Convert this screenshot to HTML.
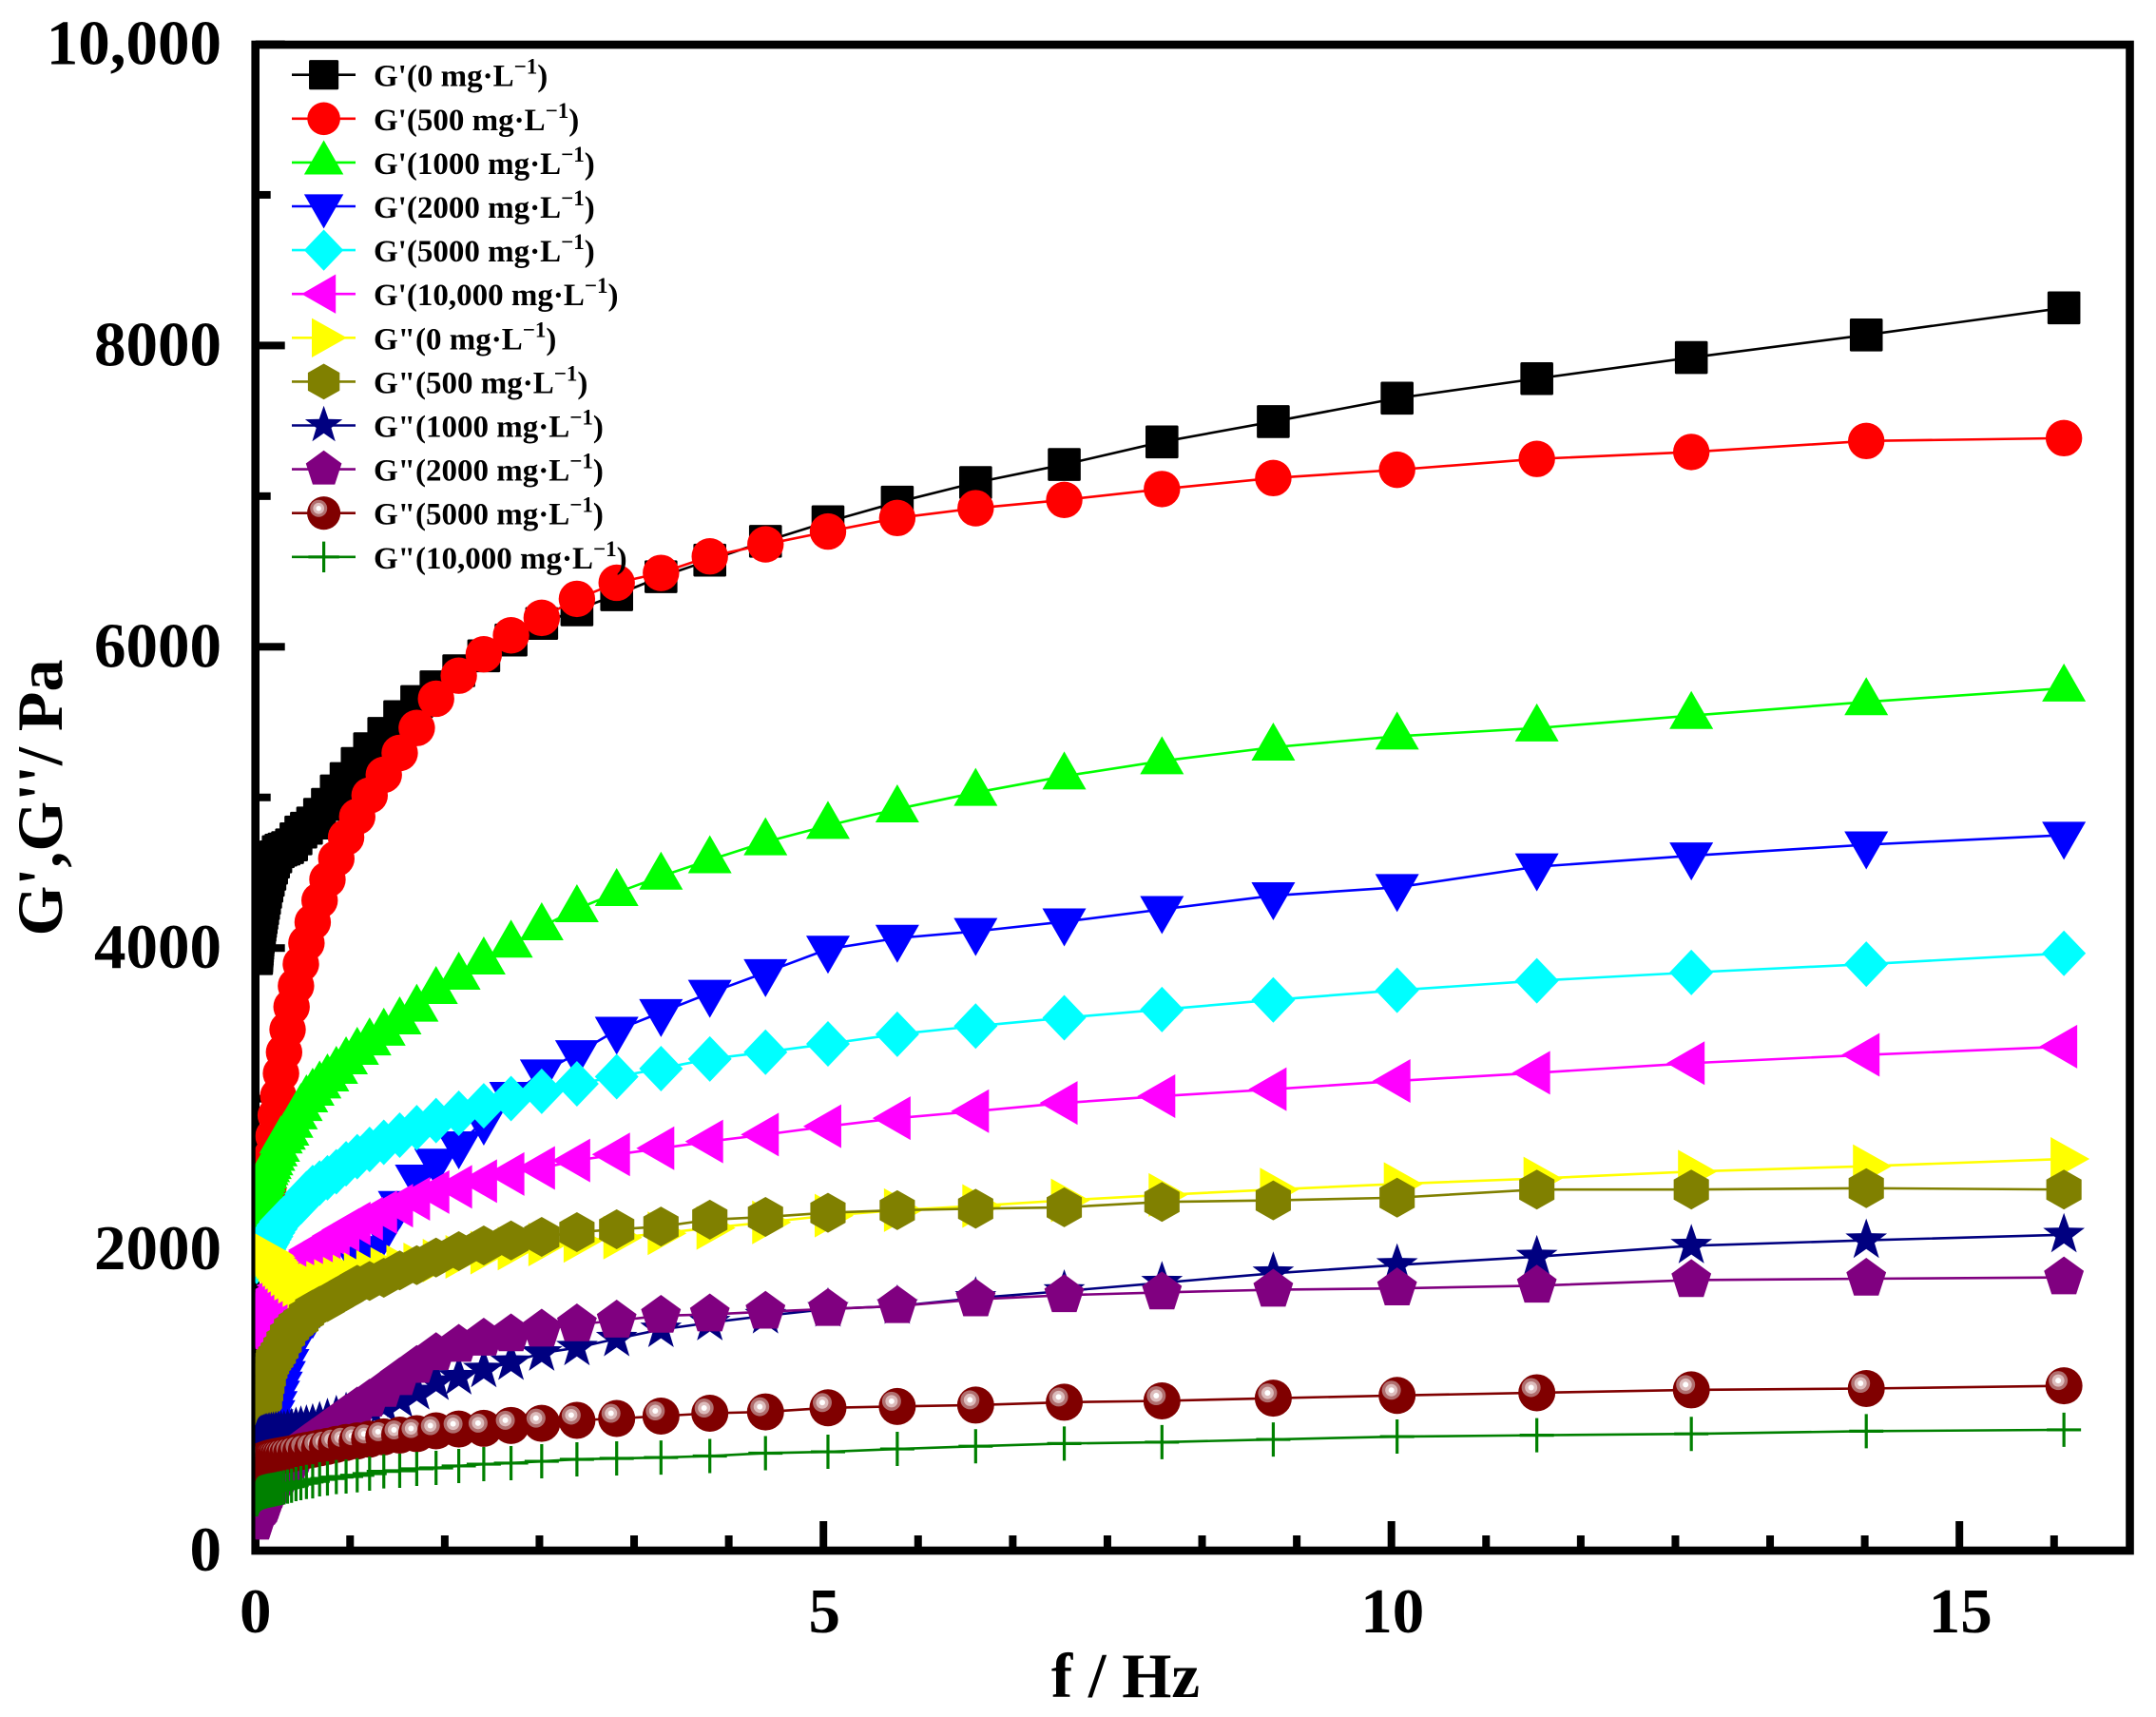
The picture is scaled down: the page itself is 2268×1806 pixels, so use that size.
<!DOCTYPE html>
<html>
<head>
<meta charset="utf-8">
<title>G', G'' vs frequency</title>
<style>
html,body{margin:0;padding:0;background:#fff;}
svg{display:block;}
text{font-family:"Liberation Serif",serif;font-weight:bold;fill:#000;}
</style>
</head>
<body>
<svg id="chart" xmlns="http://www.w3.org/2000/svg" width="2268" height="1806" viewBox="0 0 2268 1806">
<defs>
<clipPath id="plot-clip"><rect x="268.7" y="47" width="1972" height="1584"/></clipPath>
</defs>
<rect x="0" y="0" width="2268" height="1806" fill="#fff"/>
<g id="axis-layer"></g>
<g id="series-layer" clip-path="url(#plot-clip)"></g>
<g id="legend-layer"></g>
<text x="1184" y="1785" font-size="67" text-anchor="middle">f / Hz</text>
<text transform="translate(65,839) rotate(-90)" font-size="68" text-anchor="middle">G',G''/ Pa</text>
</svg>
<script>
const frequencies = [
0.01005,0.0113,0.0127,0.0142,0.0159,0.0179,0.0201,0.0225,0.0252,0.0283,0.0318,0.0357,0.04,
0.0449,0.0504,0.0565,0.0634,0.0712,0.0798,0.0896,0.1005,0.113,0.127,0.142,0.159,0.179,
0.201,0.225,0.252,0.283,0.318,0.357,0.4,0.449,0.504,0.565,0.634,0.712,0.798,
0.896,1.005,1.13,1.27,1.42,1.59,1.79,2.01,2.25,2.52,2.83,3.18,3.57,
4,4.49,5.04,5.65,6.34,7.12,7.98,8.96,10.05,11.28,12.64,14.18,15.92];

const gPrime0 = [
3930,3945,3960,3975,3990,4010,4030,4050,4070,4090,4110,4130,4150,
4175,4200,4230,4260,4295,4330,4370,4410,4450,4490,4530,4570,4605,
4640,4650,4657,4667,4685,4725,4770,4795,4830,4888,4954,5043,5125,
5225,5323,5425,5536,5636,5734,5841,5940,6045,6155,6245,6345,6465,
6575,6700,6830,6960,7090,7210,7360,7495,7650,7780,7920,8070,8250];
const gPrime500 = [
1950,1960,1970,1985,1995,2010,2020,2035,2045,2055,2065,2078,2088,
2100,2130,2160,2190,2220,2260,2300,2350,2400,2500,2620,2752,2890,
3019,3168,3309,3459,3610,3749,3894,4033,4172,4316,4455,4594,4735,
4872,5013,5150,5295,5461,5655,5808,5950,6076,6192,6318,6425,6490,
6600,6680,6765,6855,6920,6975,7047,7120,7175,7247,7293,7366,7385];
const gPrime1000 = [
2190,2200,2210,2220,2235,2248,2260,2275,2290,2305,2320,2335,2350,
2365,2380,2405,2430,2450,2470,2492,2515,2535,2555,2580,2610,2640,
2670,2725,2750,2777,2829,2885,2940,2998,3042,3090,3137,3187,3250,
3313,3376,3440,3515,3600,3717,3812,3913,4025,4140,4260,4367,4476,
4585,4704,4813,4923,5032,5141,5242,5333,5406,5460,5543,5634,5725];
const gPrime2000 = [
620,625,630,635,640,645,650,655,660,665,670,675,680,
685,690,695,700,710,720,735,750,770,800,850,910,970,
1040,1100,1170,1250,1340,1430,1480,1520,1570,1640,1700,1765,1830,
1930,2000,2120,2299,2474,2580,2695,2853,3023,3172,3300,3455,3573,
3701,3838,3993,4066,4111,4175,4257,4348,4403,4540,4613,4686,4750];
const gPrime5000 = [
1920,1922,1925,1928,1932,1936,1945,1950,1955,1958,1960,1963,1965,
1972,1978,1982,1985,1992,2000,2015,2030,2045,2065,2085,2110,2135,
2160,2185,2205,2225,2255,2285,2315,2370,2410,2440,2475,2515,2568,
2615,2663,2711,2758,2808,2855,2903,2953,3001,3049,3099,3146,3200,
3264,3309,3364,3428,3482,3537,3592,3656,3720,3783,3838,3893,3965];
const gPrime10000 = [
1430,1435,1440,1447,1455,1462,1470,1480,1490,1500,1510,1520,1530,
1540,1550,1562,1575,1590,1605,1620,1635,1650,1665,1680,1695,1712,
1730,1760,1790,1820,1855,1890,1925,1960,1994,2020,2051,2089,2129,
2171,2203,2246,2290,2335,2380,2415,2453,2500,2540,2590,2630,2671,
2716,2762,2817,2871,2917,2972,3017,3063,3118,3172,3236,3291,3346];
const gDouble0 = [
2000,2000,1999,1998,1997,1996,1995,1993,1992,1990,1989,1988,1987,
1986,1985,1982,1980,1977,1975,1970,1965,1960,1948,1930,1915,1895,
1876,1855,1832,1806,1785,1762,1752,1755,1765,1778,1790,1805,1820,
1835,1850,1870,1885,1900,1925,1950,1978,2005,2032,2056,2078,2106,
2142,2179,2224,2260,2288,2325,2361,2397,2434,2470,2516,2552,2600];
const gDouble500 = [
960,961,963,964,965,967,970,972,975,978,980,982,985,
987,990,992,995,1000,1010,1060,1110,1160,1210,1240,1265,1285,
1310,1345,1385,1430,1470,1500,1525,1565,1600,1625,1650,1685,1722,
1765,1790,1811,1860,1895,1945,1988,2026,2059,2083,2114,2133,2151,
2197,2215,2243,2260,2270,2279,2315,2325,2343,2397,2397,2406,2397];
const gDouble1000 = [
700,705,710,715,720,725,730,733,737,740,743,747,750,
753,756,758,760,763,766,768,770,773,775,778,780,783,
785,788,790,797,805,812,820,827,835,850,870,890,910,
930,945,965,1003,1054,1117,1153,1201,1250,1311,1347,1407,1468,
1513,1559,1604,1623,1677,1723,1778,1841,1896,1951,2024,2060,2097];
const gDouble2000 = [
186,190,195,200,205,210,220,228,236,245,253,260,268,
274,278,282,285,292,300,320,345,370,395,415,425,450,
480,500,520,550,590,630,669,710,740,770,810,850,900,
950,1003,1067,1145,1226,1311,1366,1407,1436,1467,1502,1527,1559,
1568,1586,1604,1623,1668,1696,1714,1732,1741,1759,1796,1805,1814];
const gDouble5000 = [
580,581,582,583,584,585,586,587,588,589,590,591,592,
593,594,596,598,600,603,606,609,612,615,618,621,624,
627,630,634,638,643,650,658,665,672,682,692,705,718,
728,740,755,767,776,795,807,812,831,845,865,877,893,
912,921,948,957,966,985,994,1012,1030,1048,1067,1076,1094];
const gDouble10000 = [
340,343,347,351,355,358,362,365,368,372,375,378,380,
382,384,386,388,390,392,394,396,398,400,402,405,408,
412,415,420,425,431,442,448,456,460,473,479,488,492,
500,511,526,530,543,549,562,574,581,593,606,612,618,
628,647,656,675,693,711,720,738,757,766,775,793,802];

const xMajorTicks = [0,5,10,15];
const xMinorTicks = [0.8333,1.6667,2.5,3.3333,4.1667,5.8333,6.6667,7.5,8.3333,9.1667,10.8333,11.6667,12.5,13.3333,14.1667,15.8333];
const yMajorTicks = [0,2000,4000,6000,8000,10000];
const yMinorTicks = [1000,3000,5000,7000,9000];
const xTickLabels = ['0','5','10','15'];
const yTickLabels = ['0','2000','4000','6000','8000','10,000'];

const seriesNames = ["G'(0 mg·L","G'(500 mg·L","G'(1000 mg·L","G'(2000 mg·L","G'(5000 mg·L","G'(10,000 mg·L","G\"(0 mg·L","G\"(500 mg·L","G\"(1000 mg·L","G\"(2000 mg·L","G\"(5000 mg·L","G\"(10,000 mg·L"];
const seriesSlugs = ['gp-0','gp-500','gp-1000','gp-2000','gp-5000','gp-10000','gpp-0','gpp-500','gpp-1000','gpp-2000','gpp-5000','gpp-10000'];
const seriesColors = ['#000000','#ff0000','#00ff00','#0000ff','#00ffff','#ff00ff','#ffff00','#808000','#000080','#800080','#800000','#008000'];
const seriesMarkers = ['square','circle','up','down','diamond','left','right','hexagon','star','pentagon','sphere','plus'];
const seriesValues = [gPrime0,gPrime500,gPrime1000,gPrime2000,gPrime5000,gPrime10000,gDouble0,gDouble500,gDouble1000,gDouble2000,gDouble5000,gDouble10000];

const NS = 'http://www.w3.org/2000/svg';
function xScale(f){ return 268.7 + f * 119.5; }
function yScale(v){ return 1631 - v * 0.15845; }
function make(tag, attrs, parent){
  const el = document.createElementNS(NS, tag);
  for (const k in attrs) el.setAttribute(k, attrs[k]);
  parent.appendChild(el);
  return el;
}
function polyStr(cx, cy, pts, s){
  return pts.map(p => (cx + p[0] * s).toFixed(2) + ',' + (cy + p[1] * s).toFixed(2)).join(' ');
}
function regular(n, r, rot){
  const out = [];
  for (let i = 0; i < n; i++){
    const a = rot + i * 2 * Math.PI / n;
    out.push([r * Math.cos(a), r * Math.sin(a)]);
  }
  return out;
}
function starPts(R, r){
  const out = [];
  for (let i = 0; i < 10; i++){
    const a = -Math.PI / 2 + i * Math.PI / 5;
    const q = i % 2 ? r : R;
    out.push([q * Math.cos(a), q * Math.sin(a)]);
  }
  return out;
}
const shapes = {
  up: [[0,-26],[23,14],[-23,14]],
  down: [[0,26],[23,-14],[-23,-14]],
  left: [[-26,0],[14,-23],[14,23]],
  right: [[27,0],[-14,-23],[-14,23]],
  diamond: [[0,-24],[23,0],[0,24],[-23,0]],
  hexagon: regular(6, 21, -Math.PI / 2).map(p => [p[0] * 1.02, p[1]]),
  pentagon: regular(5, 22, -Math.PI / 2),
  star: starPts(23, 9.2)
};
function drawMarker(kind, cx, cy, s, color, g){
  if (kind === 'square'){
    make('rect', {x: cx - 17.3 * s, y: cy - 17.3 * s, width: 34.6 * s, height: 34.6 * s, rx: 1.5, fill: color}, g);
  } else if (kind === 'circle'){
    make('circle', {cx: cx, cy: cy, r: 19.2 * s, fill: color}, g);
  } else if (kind === 'sphere'){
    make('circle', {cx: cx, cy: cy, r: 19.5 * s, fill: color}, g);
    make('circle', {cx: cx - 6 * s, cy: cy - 5.5 * s, r: 10 * s, fill: '#b06f6f'}, g);
    make('circle', {cx: cx - 6 * s, cy: cy - 5.5 * s, r: 6.5 * s, fill: '#dcbcbc'}, g);
    make('circle', {cx: cx - 6 * s, cy: cy - 5.5 * s, r: 3 * s, fill: '#ffffff'}, g);
  } else if (kind === 'plus'){
    make('path', {d: 'M' + (cx - 18 * s) + ' ' + cy + 'H' + (cx + 18 * s) + 'M' + cx + ' ' + (cy - 18 * s) + 'V' + (cy + 18 * s), stroke: color, 'stroke-width': 3.2, fill: 'none'}, g);
  } else {
    make('polygon', {points: polyStr(cx, cy, shapes[kind], s), fill: color}, g);
  }
}

const seriesLayer = document.getElementById('series-layer');
seriesValues.forEach(function(values, i){
  const g = make('g', {}, seriesLayer);
  
  
  const pts = values.map((v, k) => xScale(frequencies[k]).toFixed(2) + ',' + yScale(v).toFixed(2)).join(' ');
  const line = make('polyline', {points: pts, fill: 'none', stroke: seriesColors[i], 'stroke-width': 2.6}, g);
  
  
  values.forEach(function(v, k){
    drawMarker(seriesMarkers[i], xScale(frequencies[k]), yScale(v), 1, seriesColors[i], g);
  });
});

const axisLayer = document.getElementById('axis-layer');
const spine = make('rect', {x: 268.7, y: 47, width: 1971.8, height: 1584, fill: 'none', stroke: '#000', 'stroke-width': 8.6}, axisLayer);


xMajorTicks.forEach(function(t, i){
  const tick = make('rect', {x: xScale(t) - 4, y: 1600, width: 8, height: 31, fill: '#000'}, axisLayer);
  
  
  const label = make('text', {x: xScale(t) + (i === 0 ? 0 : 1), y: 1717, 'font-size': 67, 'text-anchor': 'middle'}, axisLayer);
  label.textContent = xTickLabels[i];
  
  
});
xMinorTicks.forEach(function(t){
  const tick = make('rect', {x: xScale(t) - 4, y: 1615, width: 8, height: 16, fill: '#000'}, axisLayer);
  
  
});
yMajorTicks.forEach(function(t, i){
  const tick = make('rect', {x: 268.7, y: yScale(t) - 4, width: 31, height: 8, fill: '#000'}, axisLayer);
  
  
  const label = make('text', {x: 233, y: yScale(t) + 21, 'font-size': 67, 'text-anchor': 'end'}, axisLayer);
  label.textContent = yTickLabels[i];
  
  
});
yMinorTicks.forEach(function(t){
  const tick = make('rect', {x: 268.7, y: yScale(t) - 4, width: 16, height: 8, fill: '#000'}, axisLayer);
  
  
});

const legendLayer = document.getElementById('legend-layer');
seriesNames.forEach(function(name, i){
  const cy = 78.7 + i * 46.1;
  const g = make('g', {}, legendLayer);
  
  
  make('line', {x1: 307, x2: 374, y1: cy, y2: cy, stroke: seriesColors[i], 'stroke-width': 2.6}, g);
  drawMarker(seriesMarkers[i], 340.6, cy, 0.9, seriesColors[i], g);
  const t = make('text', {x: 393, y: cy + 12, 'font-size': 33}, g);
  const a = make('tspan', {}, t);
  a.textContent = name;
  const sup = make('tspan', {dy: -13, 'font-size': 23}, t);
  sup.textContent = '\u22121';
  const b = make('tspan', {dy: 13}, t);
  b.textContent = ')';
});
</script>
</body>
</html>
